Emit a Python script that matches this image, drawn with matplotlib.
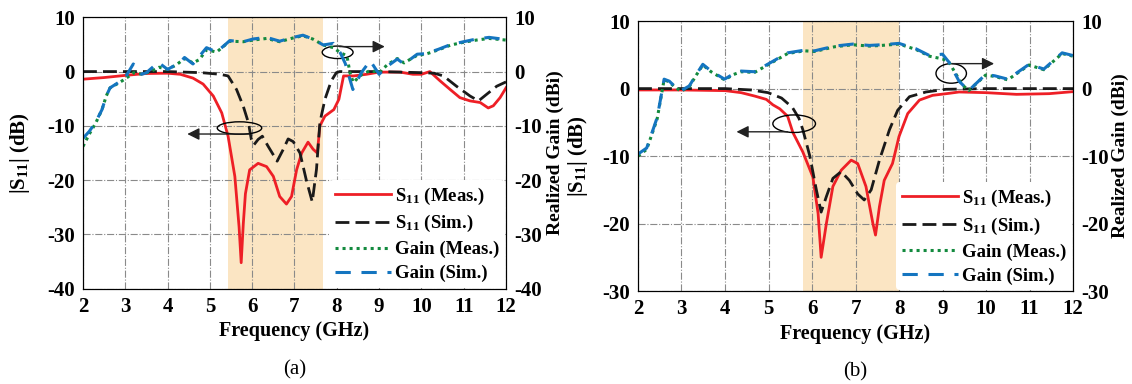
import matplotlib.pyplot as plt
from matplotlib.patches import Ellipse
import numpy as np

plt.rcParams['font.family'] = ['Liberation Serif', 'DejaVu Serif']
plt.rcParams['font.weight'] = 'bold'
plt.rcParams['axes.labelweight'] = 'bold'
plt.rcParams['axes.unicode_minus'] = False
plt.rcParams['mathtext.fontset'] = 'custom'
plt.rcParams['mathtext.rm'] = 'Liberation Serif:bold'
plt.rcParams['mathtext.bf'] = 'Liberation Serif:bold'
plt.rcParams['mathtext.default'] = 'bf'

# ---- panel (a) data ----
fa_s11m = [2.0, 2.5, 3.0, 3.5, 4.0, 4.3, 4.6, 4.84, 5.08, 5.28, 5.43, 5.59, 5.69, 5.74, 5.79,
           5.84, 5.94, 6.14, 6.34, 6.50, 6.65, 6.81, 6.93, 7.05, 7.17, 7.32, 7.44, 7.54, 7.60,
           7.72, 7.93, 8.05, 8.16, 8.4, 8.7, 9.0, 9.5, 9.8, 10.0, 10.2, 10.44, 10.68, 10.91,
           11.15, 11.39, 11.58, 11.70, 11.86, 12.0]
a_s11m = [-1.4, -1.1, -0.7, -0.35, -0.3, -0.5, -1.2, -2.3, -4.5, -7.6, -11.9, -19.3, -28.6, -35.2, -28,
          -22.5, -18.1, -16.9, -17.5, -19.3, -23, -24.4, -23, -18.1, -15, -13, -14.3, -15, -10,
          -8.2, -7, -5.1, -0.8, -0.8, -0.5, -0.1, -0.1, -0.5, -0.5, 0.0, -1.7, -3.3, -4.8,
          -5.4, -5.7, -6.7, -6.3, -4.8, -3.0]

fa_s11s = [2.0, 3.0, 4.0, 4.8, 5.24, 5.43, 5.63, 5.79, 5.91, 5.98, 6.04, 6.14, 6.24, 6.38, 6.59,
           6.73, 6.85, 6.97, 7.13, 7.28, 7.42, 7.52, 7.60, 7.72, 7.87, 7.99, 8.07, 9.0, 10.0,
           10.3, 10.52, 10.83, 11.15, 11.35, 11.54, 11.78, 12.0]
a_s11s = [0, 0, 0, -0.2, -0.5, -0.8, -3.3, -6.4, -9.4, -12.5, -13.5, -12.5, -11.9, -13.8, -16.5,
          -14.4, -12.4, -12.9, -15, -20, -24, -18, -9.4, -5.1, -1.7, -0.2, 0, 0, -0.2,
          -0.3, -0.8, -2.7, -4.5, -5.4, -4.2, -2.7, -1.9]

fa_gm = [2.0, 2.15, 2.3, 2.45, 2.55, 2.64, 2.8, 2.99, 3.2, 3.4, 3.6, 3.8, 4.0, 4.2, 4.4, 4.6,
         4.75, 4.92, 5.16, 5.3, 5.47, 5.79, 6.02, 6.34, 6.65, 6.97, 7.2, 7.43, 7.68, 7.92, 8.08,
         8.24, 8.31, 8.39, 8.58, 8.79, 9.0, 9.2, 9.43, 9.59, 9.9, 10.1, 10.4, 10.7, 11.0, 11.3,
         11.6, 12.0]
a_gm = [-13.8, -11.5, -9.5, -7, -4.5, -3.0, -2.3, -1.4, -0.2, -0.5, 0.0, 0.8, 0.4, 1.2, 2.4, 1.6,
        2.2, 4.0, 3.6, 4.5, 5.6, 5.5, 5.8, 6.1, 5.5, 6.2, 6.6, 6.0, 4.9, 4.4, 3.5,
        2.9, -0.2, -2.0, -0.6, 0.2, -0.2, 1.3, 2.4, 1.6, 3.0, 3.2, 4.0, 4.9, 5.4, 5.8,
        6.1, 5.8]

fa_gs = [2.0, 2.15, 2.3, 2.45, 2.55, 2.64, 2.8, 2.99, 3.19, 3.39, 3.5, 3.78, 4.0, 4.3, 4.4, 4.6,
         4.92, 5.16, 5.47, 5.79, 6.02, 6.34, 6.65, 6.97, 7.2, 7.43, 7.68, 7.92, 8.08, 8.2, 8.38,
         8.58, 8.79, 9.0, 9.2, 9.43, 9.59, 9.9, 10.1, 10.4, 10.7, 11.0, 11.3, 11.6, 12.0]
a_gs = [-12.3, -11, -9.3, -7, -4.5, -3, -2.2, -1.2, 1.4, -0.5, -0.2, 1.7, 0.4, 1.7, 2.6, 1.4,
        4.4, 3.6, 5.7, 5.5, 6.0, 6.3, 5.6, 6.3, 6.7, 6.0, 4.9, 5.2, 3.5, 1.5, -3.3,
        -0.2, 2.0, -0.5, 1.0, 2.3, 1.4, 3.2, 3.3, 4.1, 5.0, 5.5, 6.0, 6.3, 5.9]

# ---- panel (b) data ----
fb_s11m = [2.0, 3.0, 4.0, 4.37, 4.68, 4.95, 5.1, 5.26, 5.44, 5.56, 5.79, 6.02, 6.14, 6.21, 6.33,
           6.48, 6.67, 6.9, 7.05, 7.24, 7.4, 7.46, 7.55, 7.66, 7.85, 8.0, 8.2, 8.47, 8.77, 9.15,
           9.38, 10.0, 10.7, 11.45, 12.0]
b_s11m = [-0.2, -0.2, -0.3, -0.6, -1.1, -1.6, -2.4, -3.0, -4.1, -6.5, -9.4, -13.1, -18.5, -25, -20,
          -14.5, -12.1, -10.6, -11.1, -14.5, -20, -21.7, -17.5, -13.6, -11.1, -7.1, -3.7, -1.7, -1.0, -0.7,
          -0.5, -0.6, -0.85, -0.75, -0.45]

fb_s11s = [2.0, 4.0, 4.6, 4.99, 5.3, 5.55, 5.7, 5.79, 5.95, 6.1, 6.21, 6.33, 6.48, 6.67, 6.86,
           7.05, 7.2, 7.36, 7.55, 7.78, 7.97, 8.24, 8.62, 9.08, 10.0, 12.0]
b_s11s = [0, 0, -0.2, -0.6, -1.4, -2.8, -4.4, -6.1, -10, -15, -18.3, -16, -13.3, -12.3, -13.6,
          -15.6, -16.5, -15, -10.6, -6.1, -3.2, -1.2, -0.5, -0.1, 0, 0]

fb_gs = [2.0, 2.2, 2.35, 2.44, 2.52, 2.60, 2.72, 2.85, 2.99, 3.18, 3.35, 3.49, 3.68, 3.99, 4.2,
         4.37, 4.68, 5.06, 5.44, 5.83, 6.06, 6.52, 6.94, 7.32, 7.6, 8.0, 8.39, 8.7, 9.0, 9.15,
         9.38, 9.6, 9.99, 10.2, 10.5, 10.99, 11.33, 11.75, 12.0]
b_gs = [-9.7, -8.8, -6, -4.3, -1.5, 1.4, 1.1, 0.3, -0.3, 0.4, 2.2, 3.6, 2.6, 1.4, 2.2,
        2.6, 2.5, 3.9, 5.3, 5.7, 5.6, 6.3, 6.6, 6.4, 6.5, 6.7, 5.9, 4.9, 5.1, 3.9,
        1.1, -0.3, 2.1, 1.9, 1.4, 3.6, 2.9, 5.3, 4.9]

fb_gm = [2.0, 2.2, 2.35, 2.44, 2.52, 2.60, 2.72, 2.85, 2.99, 3.18, 3.35, 3.49, 3.68, 3.99, 4.2,
         4.37, 4.68, 5.06, 5.44, 5.83, 6.06, 6.52, 6.94, 7.32, 7.6, 8.0, 8.39, 8.7, 9.0, 9.15,
         9.45, 9.6, 9.99, 10.2, 10.5, 10.99, 11.33, 11.75, 12.0]
b_gm = [-10, -9, -6.2, -4.5, -1.6, 1.3, 1.0, 0.2, -0.4, 0.3, 2.1, 3.5, 2.5, 1.3, 2.1,
        2.5, 2.4, 3.8, 5.2, 5.6, 5.5, 6.2, 6.5, 6.3, 6.4, 6.6, 5.8, 4.8, 4.4, 3.9,
        0.6, -0.3, 2.0, 1.8, 1.3, 3.5, 2.8, 5.2, 4.8]

labels = ['S$_{11}$ (Meas.)', 'S$_{11}$ (Sim.)', 'Gain (Meas.)', 'Gain (Sim.)']
xticks = np.arange(2, 13, 1)

red = '#ee1f26'
blk = '#1a1a1a'
grn = '#138a3e'
blu = '#1475c0'
shade = '#fbe5c3'


def draw_panel(ax, s11m, s11s, gm, gs, ylim, band, ell1, arr1, ell2, arr2, lab_x, tag):
    ax.axvspan(band[0], band[1], color=shade, lw=0, zorder=0.5)
    l1, = ax.plot(s11m[0], s11m[1], color=red, lw=2.0)
    l2, = ax.plot(s11s[0], s11s[1], color=blk, lw=2.0, ls=(0, (5, 2.2)))
    ax.set_xlim(2, 12)
    ax.set_ylim(*ylim)
    ax.set_xticks(xticks)
    ax.set_yticks(np.arange(ylim[0], ylim[1] + 1, 10))
    ax.grid(True, ls='-.', color='#8a8a8a', lw=0.8)
    ax.tick_params(length=0, labelsize=15, pad=6)
    ax.set_xlabel('Frequency (GHz)', fontsize=14.5, labelpad=3)
    ax.set_ylabel('|S$_{11}$| (dB)', fontsize=15)
    ax.yaxis.set_label_coords(lab_x[0], 0.5)

    ax2 = ax.twinx()
    l3, = ax2.plot(gm[0], gm[1], color=grn, lw=2.2, ls=(0, (1, 1.3)))
    l4, = ax2.plot(gs[0], gs[1], color=blu, lw=2.2, ls=(0, (5, 3.5)))
    ax2.set_ylim(*ylim)
    ax2.set_yticks(np.arange(ylim[0], ylim[1] + 1, 10))
    ax2.tick_params(length=0, labelsize=15, pad=6)
    ax2.set_ylabel('Realized Gain (dBi)', fontsize=14)
    ax2.yaxis.set_label_coords(lab_x[1], 0.5)

    # annotation ellipses and arrows
    for ell, arr in [(ell1, arr1), (ell2, arr2)]:
        ax.add_patch(Ellipse(ell[0], ell[1], ell[2], fill=False, ec='black', lw=1.0, zorder=5))
        ax.annotate('', xy=arr[1], xytext=arr[0],
                    arrowprops=dict(arrowstyle='-|>', color='#222222', lw=1.0, mutation_scale=18),
                    zorder=5)

    leg = ax2.legend([l1, l2, l3, l4], labels, loc='lower right', fontsize=13.5,
                     frameon=True, facecolor='white', edgecolor='none', framealpha=1,
                     borderaxespad=0.05, handlelength=3.0, handletextpad=0.2,
                     labelspacing=0.35, borderpad=0.3)
    leg.get_frame().set_linewidth(0)
    ax.text(0.5, -0.30, tag, transform=ax.transAxes, ha='center', va='center',
            fontsize=15, fontweight='normal')
    return ax2


fig = plt.figure(figsize=(11.32, 3.84), dpi=100)
axa = fig.add_axes([0.0733, 0.248, 0.3737, 0.707])
axb = fig.add_axes([0.5636, 0.242, 0.3843, 0.703])

draw_panel(axa, (fa_s11m, a_s11m), (fa_s11s, a_s11s), (fa_gm, a_gm), (fa_gs, a_gs),
           (-40, 10), (5.42, 7.68),
           ((5.70, -10.4), 1.05, 2.3), ((6.0, -11.5), (4.4, -11.5)),
           ((8.02, 3.55), 0.73, 2.3), ((8.0, 4.6), (9.2, 4.6)),
           (-0.12, 1.097), '(a)')
draw_panel(axb, (fb_s11m, b_s11m), (fb_s11s, b_s11s), (fb_gm, b_gm), (fb_gs, b_gs),
           (-30, 10), (5.80, 8.0),
           ((5.59, -5.2), 0.98, 2.6), ((5.5, -6.4), (4.2, -6.4)),
           ((9.2, 2.25), 0.7, 2.9), ((9.15, 3.7), (10.25, 3.7)),
           (-0.110, 1.088), '(b)')

fig.savefig('out.png', dpi=100)
